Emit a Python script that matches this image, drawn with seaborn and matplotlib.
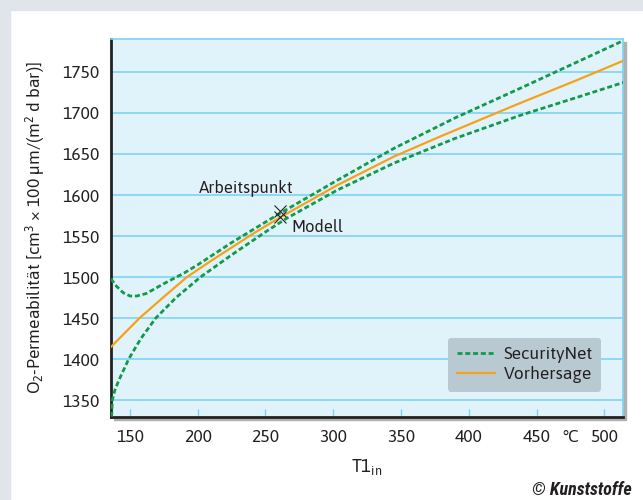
import numpy as np
import pandas as pd
import seaborn as sns
import matplotlib.pyplot as plt
from matplotlib.patches import Rectangle

# Werte
t_upper = [136, 140, 145, 150, 155, 162, 175, 190, 200, 225, 260, 303, 345, 390, 438, 480, 514]
securitynet_upper = [1498, 1489, 1481, 1477, 1477, 1480, 1492, 1505, 1515, 1542, 1577, 1618, 1657, 1694, 1730, 1762, 1788]

t_lower = [136.5, 137, 139, 142, 149, 158, 169, 184, 202, 225, 250, 265, 303, 345, 390, 438, 480, 514]
securitynet_lower = [1330, 1350, 1363, 1375, 1400, 1425, 1450, 1475, 1500, 1527, 1555, 1571, 1606, 1639, 1669, 1697, 1719, 1737]

t_pred = [136, 145, 157, 175, 192, 210, 240, 260, 303, 345, 380, 414, 438, 480, 514]
vorhersage = [1415, 1430, 1450, 1476, 1500, 1520, 1552, 1572, 1612, 1647, 1672, 1695.5, 1712, 1740, 1763.5]

x_ticks = [150, 200, 250, 300, 350, 400, 450, 475, 500]
x_ticklabels = ["150", "200", "250", "300", "350", "400", "450", "°C", "500"]
y_ticks = [1350, 1400, 1450, 1500, 1550, 1600, 1650, 1700, 1750]

arbeitspunkt = (261, 1577)

font = "Asap"
plt.rcParams["font.family"] = [font, "DejaVu Sans"]
plt.rcParams["mathtext.fontset"] = "custom"
plt.rcParams["mathtext.rm"] = font
plt.rcParams["mathtext.it"] = font

green = "#119a4b"
orange = "#f7a11a"
txtcol = "#231f20"

fig = plt.figure(figsize=(6.43, 5.0), dpi=100)
fig.patch.set_facecolor("white")
# grauer Rahmen oben und links
fig.patches.append(Rectangle((0, 1 - 10 / 500), 1, 10 / 500, transform=fig.transFigure,
                             color="#dfe5ea", zorder=-2))
fig.patches.append(Rectangle((0, 0), 10 / 643, 1, transform=fig.transFigure,
                             color="#dfe5ea", zorder=-2))

ax_pos = [110.7 / 643, 1 - 416.7 / 500, (623 - 110.7) / 643, (416.7 - 39) / 500]
# Schatten
fig.patches.append(Rectangle((ax_pos[0] + 3 / 643, ax_pos[1] - 3 / 500), ax_pos[2], ax_pos[3],
                             transform=fig.transFigure, color="#b0b0b0", zorder=-1))
ax = fig.add_axes(ax_pos, zorder=1)
ax.set_facecolor("#e1f3fa")

ax.set_xlim(135.8, 513.8)
ax.set_ylim(1330, 1790)

sns.lineplot(x=t_upper, y=securitynet_upper, ax=ax, color=green, lw=2.0,
             linestyle=(0, (1.8, 1.0)), label="SecurityNet", sort=False, zorder=3)
sns.lineplot(x=t_lower, y=securitynet_lower, ax=ax, color=green, lw=2.0,
             linestyle=(0, (1.8, 1.0)), sort=False, zorder=3)
sns.lineplot(x=t_pred, y=vorhersage, ax=ax, color=orange, lw=1.6,
             label="Vorhersage", sort=False, zorder=4)

# Arbeitspunkt / Modell
ax.plot([arbeitspunkt[0]], [arbeitspunkt[1] + 4], marker="x", ms=8, mew=0.8, color="#222222", zorder=5)
ax.plot([arbeitspunkt[0]], [arbeitspunkt[1] - 4], marker="x", ms=8, mew=0.8, color="#222222", zorder=5)
ax.text(236, 1608, "Arbeitspunkt", fontsize=12, ha="center", va="center", color=txtcol)
ax.text(269, 1561, "Modell", fontsize=12, ha="left", va="center", color=txtcol)

ax.set_yticks(y_ticks)
ax.set_xticks(x_ticks)
ax.set_xticklabels(x_ticklabels)
ax.grid(axis="y", color="#7ed3f3", lw=1.2)
ax.set_axisbelow(True)
ax.tick_params(axis="y", length=0, labelsize=12.5, pad=8, labelcolor=txtcol)
ax.tick_params(axis="x", direction="in", length=6, width=1, color="#7ed3f3",
               labelsize=12.5, pad=9, labelcolor=txtcol)
ax.xaxis.get_major_ticks()[7].tick1line.set_visible(False)

for side in ["left", "bottom"]:
    ax.spines[side].set_color("#222222")
    ax.spines[side].set_linewidth(2)
for side in ["top", "right"]:
    ax.spines[side].set_color("#7ed3f3")
    ax.spines[side].set_linewidth(1.2)

ax.set_xlabel(r"T1$_\mathregular{in}$", fontsize=13, labelpad=8, color=txtcol)
ax.set_ylabel(r"O$_\mathregular{2}$-Permeabilität [cm$^\mathregular{3}$ × 100 µm/(m$^\mathregular{2}$ d bar)]",
              fontsize=12.5, labelpad=11, color=txtcol)

leg = ax.legend(loc="lower right", bbox_to_anchor=(0.958, 0.066), borderaxespad=0,
                fontsize=12.5, frameon=True, fancybox=True, facecolor="#b9c9d1",
                edgecolor="none", framealpha=1, handlelength=2.2, handletextpad=0.5,
                labelspacing=0.15, borderpad=0.5)
for txt in leg.get_texts():
    txt.set_color(txtcol)

fig.text(632 / 643, 1 - 490 / 500, "© Kunststoffe", ha="right", va="center",
         fontsize=13, fontweight="bold", fontstyle="italic", color=txtcol,
         family="Roboto Condensed")

fig.savefig("out.png", dpi=100)
